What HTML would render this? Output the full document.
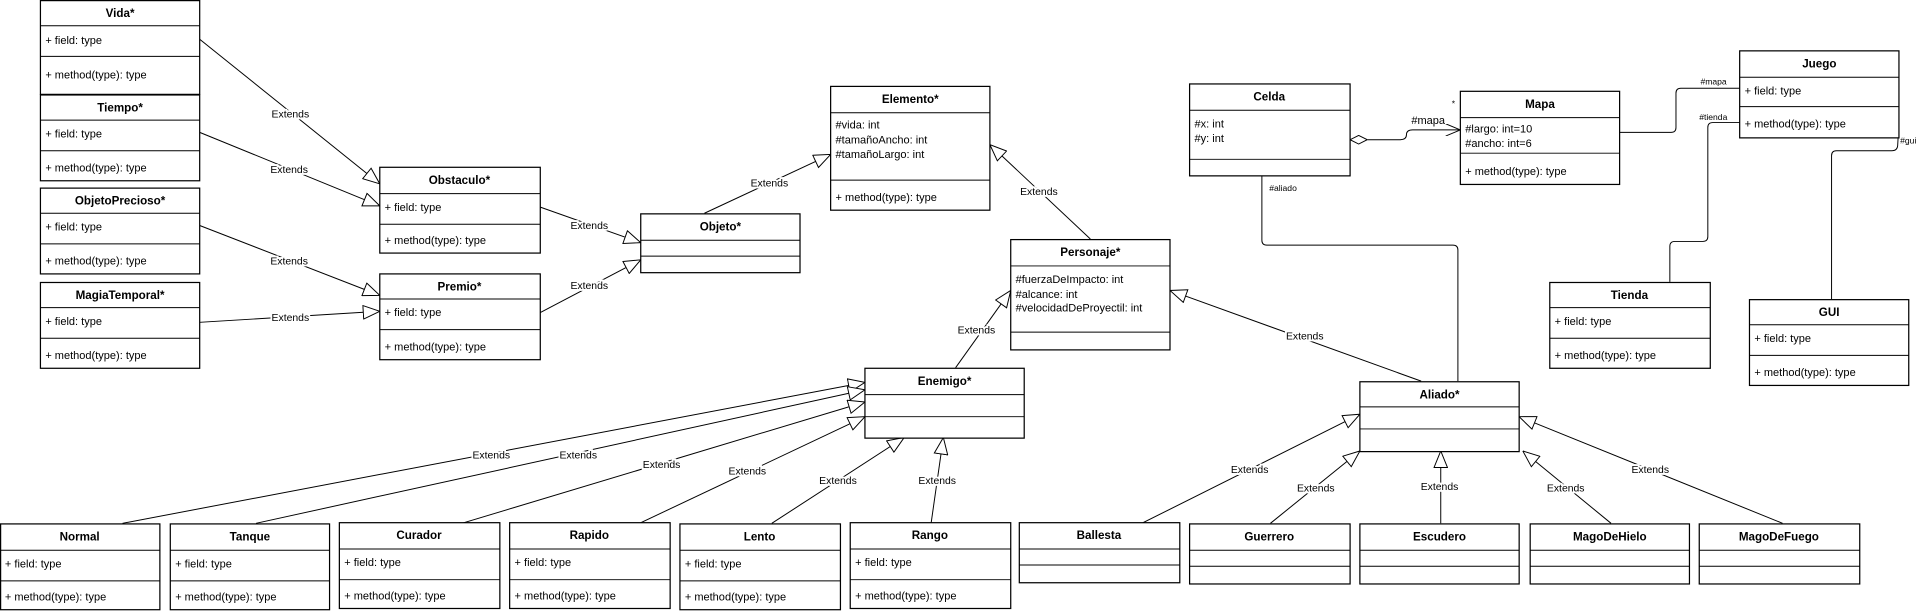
<!DOCTYPE html>
<html><head><meta charset="utf-8"><style>
html,body{margin:0;padding:0;background:#fff;}
svg{display:block}
text{font-family:"Liberation Sans",sans-serif;fill:#000}
.t{font-size:9.5px;font-weight:bold;text-anchor:middle}
.f{font-size:9px}
.l{font-size:8.5px;text-anchor:middle;paint-order:stroke;stroke:#fff;stroke-width:3px}
.s{font-size:7px}
rect{fill:#fff;stroke:#000;stroke-width:1}
line,path.c{stroke:#000;stroke-width:0.8;fill:none}
</style></head><body>
<svg width="1921" height="614" viewBox="0 0 1568 501" preserveAspectRatio="none" xmlns="http://www.w3.org/2000/svg">
<defs>
<marker id="h" viewBox="0 0 14 12" refX="14" refY="6" markerWidth="14" markerHeight="12" markerUnits="userSpaceOnUse" orient="auto"><path d="M0.5,0.5 L14,6 L0.5,11.5 Z" fill="#fff" stroke="#000" stroke-width="0.8"/></marker>
<marker id="o" viewBox="0 0 12 10" refX="12" refY="5" markerWidth="12" markerHeight="10" markerUnits="userSpaceOnUse" orient="auto"><path d="M0,0 L12,5 L0,10" fill="none" stroke="#000" stroke-width="0.8"/></marker>
<marker id="d" viewBox="0 0 14 8" refX="0" refY="4" markerWidth="14" markerHeight="8" markerUnits="userSpaceOnUse" orient="auto"><path d="M0,4 L7,0.5 L14,4 L7,7.5 Z" fill="#fff" stroke="#000" stroke-width="0.8"/></marker>
</defs>

<!-- connectors -->
<g>
<line x1="163" y1="32" x2="310" y2="150" marker-end="url(#h)"/>
<line x1="163" y1="108" x2="310" y2="168" marker-end="url(#h)"/>
<line x1="163" y1="184" x2="310" y2="241" marker-end="url(#h)"/>
<line x1="163" y1="263" x2="310" y2="254" marker-end="url(#h)"/>
<line x1="441" y1="169" x2="523" y2="198" marker-end="url(#h)"/>
<line x1="441" y1="255" x2="523" y2="212" marker-end="url(#h)"/>
<line x1="575" y1="174" x2="678" y2="126" marker-end="url(#h)"/>
<line x1="890" y1="195" x2="808" y2="118" marker-end="url(#h)"/>
<line x1="780" y1="300" x2="825" y2="237" marker-end="url(#h)"/>
<line x1="1160" y1="311" x2="955" y2="237" marker-end="url(#h)"/>

<line x1="100" y1="427" x2="706" y2="312" marker-end="url(#h)"/>
<line x1="209" y1="427" x2="706" y2="318" marker-end="url(#h)"/>
<line x1="377" y1="427" x2="706" y2="328" marker-end="url(#h)"/>
<line x1="522" y1="427" x2="706" y2="340" marker-end="url(#h)"/>
<line x1="630" y1="427" x2="738" y2="357" marker-end="url(#h)"/>
<line x1="760" y1="427" x2="770" y2="357" marker-end="url(#h)"/>

<line x1="932" y1="427" x2="1110" y2="338" marker-end="url(#h)"/>
<line x1="1037" y1="427" x2="1110" y2="368" marker-end="url(#h)"/>
<line x1="1176" y1="427" x2="1176" y2="368" marker-end="url(#h)"/>
<line x1="1315" y1="427" x2="1243" y2="368" marker-end="url(#h)"/>
<line x1="1455" y1="427" x2="1240" y2="340" marker-end="url(#h)"/>

<path class="c" d="M1102,114 L1143,114 Q1148,114 1148,110 Q1148,106 1153,106 L1192,106" marker-start="url(#d)" marker-end="url(#o)"/>
<path class="c" d="M1033,143 L1030,143 L1030,196 Q1030,200 1034,200 L1186,200 Q1190,200 1190,204 L1190,311"/>
<path class="c" d="M1322,108 L1364,108 Q1368,108 1368,104 L1368,76 Q1368,72 1372,72 L1420,72"/>
<path class="c" d="M1420,100 L1398,100 Q1394,100 1394,104 L1394,193 Q1394,197 1390,197 L1367,197 Q1363,197 1363,201 L1363,230"/>
<path class="c" d="M1550,100 L1549,118 Q1549,123 1544,123 L1499,123 Q1495,123 1495,127 L1495,244"/>
</g>

<!-- connector labels -->
<g>
<text class="l" x="237" y="96">Extends</text>
<text class="l" x="236" y="141">Extends</text>
<text class="l" x="236" y="216">Extends</text>
<text class="l" x="237" y="262">Extends</text>
<text class="l" x="481" y="187">Extends</text>
<text class="l" x="481" y="236">Extends</text>
<text class="l" x="628" y="152">Extends</text>
<text class="l" x="848" y="159">Extends</text>
<text class="l" x="797" y="272">Extends</text>
<text class="l" x="1065" y="277">Extends</text>
<text class="l" x="401" y="374">Extends</text>
<text class="l" x="472" y="374">Extends</text>
<text class="l" x="540" y="382">Extends</text>
<text class="l" x="610" y="387">Extends</text>
<text class="l" x="684" y="395">Extends</text>
<text class="l" x="765" y="395">Extends</text>
<text class="l" x="1020" y="386">Extends</text>
<text class="l" x="1074" y="401">Extends</text>
<text class="l" x="1175" y="400">Extends</text>
<text class="l" x="1278" y="401">Extends</text>
<text class="l" x="1347" y="386">Extends</text>
<text class="f" x="1152" y="101">#mapa</text>
<text class="s" x="1185" y="87">*</text>
<text class="s" x="1036" y="156">#aliado</text>
<text class="s" x="1388" y="69">#mapa</text>
<text class="s" x="1387" y="98">#tienda</text>
<text class="s" x="1551" y="117">#gui</text>
</g>

<!-- classes -->
<g>
<rect x="33" y="0.5" width="130" height="76.5"/><line x1="33" y1="21" x2="163" y2="21"/><line x1="33" y1="46" x2="163" y2="46"/>
<text class="t" x="98" y="14">Vida*</text><text class="f" x="37" y="36">+ field: type</text><text class="f" x="37" y="64">+ method(type): type</text>

<rect x="33" y="77.5" width="130" height="70"/><line x1="33" y1="98" x2="163" y2="98"/><line x1="33" y1="123" x2="163" y2="123"/>
<text class="t" x="98" y="91">Tiempo*</text><text class="f" x="37" y="112">+ field: type</text><text class="f" x="37" y="140">+ method(type): type</text>

<rect x="33" y="153.5" width="130" height="70"/><line x1="33" y1="174" x2="163" y2="174"/><line x1="33" y1="199" x2="163" y2="199"/>
<text class="t" x="98" y="167">ObjetoPrecioso*</text><text class="f" x="37" y="188">+ field: type</text><text class="f" x="37" y="216">+ method(type): type</text>

<rect x="33" y="230.5" width="130" height="70"/><line x1="33" y1="251" x2="163" y2="251"/><line x1="33" y1="276" x2="163" y2="276"/>
<text class="t" x="98" y="244">MagiaTemporal*</text><text class="f" x="37" y="265">+ field: type</text><text class="f" x="37" y="293">+ method(type): type</text>

<rect x="310" y="136.5" width="131" height="70"/><line x1="310" y1="158" x2="441" y2="158"/><line x1="310" y1="183" x2="441" y2="183"/>
<text class="t" x="375" y="150">Obstaculo*</text><text class="f" x="314" y="172">+ field: type</text><text class="f" x="314" y="199">+ method(type): type</text>

<rect x="310" y="223.5" width="131" height="70"/><line x1="310" y1="244" x2="441" y2="244"/><line x1="310" y1="269" x2="441" y2="269"/>
<text class="t" x="375" y="237">Premio*</text><text class="f" x="314" y="258">+ field: type</text><text class="f" x="314" y="286">+ method(type): type</text>

<rect x="523" y="174.5" width="130" height="48"/><line x1="523" y1="196" x2="653" y2="196"/><line x1="523" y1="209" x2="653" y2="209"/>
<text class="t" x="588" y="188">Objeto*</text>

<rect x="678" y="70.5" width="130" height="101"/><line x1="678" y1="92" x2="808" y2="92"/><line x1="678" y1="147" x2="808" y2="147"/>
<text class="t" x="743" y="84">Elemento*</text><text class="f" x="682" y="105">#vida: int</text><text class="f" x="682" y="117">#tamañoAncho: int</text><text class="f" x="682" y="129">#tamañoLargo: int</text><text class="f" x="682" y="164">+ method(type): type</text>

<rect x="825" y="195.5" width="130" height="90"/><line x1="825" y1="217" x2="955" y2="217"/><line x1="825" y1="271" x2="955" y2="271"/>
<text class="t" x="890" y="209">Personaje*</text><text class="f" x="829" y="231">#fuerzaDeImpacto: int</text><text class="f" x="829" y="243">#alcance: int</text><text class="f" x="829" y="254">#velocidadDeProyectil: int</text>

<rect x="706" y="300.5" width="130" height="57"/><line x1="706" y1="322" x2="836" y2="322"/><line x1="706" y1="340" x2="836" y2="340"/>
<text class="t" x="771" y="314">Enemigo*</text>

<rect x="1110" y="311.5" width="130" height="57"/><line x1="1110" y1="332" x2="1240" y2="332"/><line x1="1110" y1="350" x2="1240" y2="350"/>
<text class="t" x="1175" y="325">Aliado*</text>

<rect x="971" y="68.5" width="131" height="75"/><line x1="971" y1="90" x2="1102" y2="90"/><line x1="971" y1="130" x2="1102" y2="130"/>
<text class="t" x="1036" y="82">Celda</text><text class="f" x="975" y="104">#x: int</text><text class="f" x="975" y="116">#y: int</text>

<rect x="1192" y="74.5" width="130" height="76"/><line x1="1192" y1="96" x2="1322" y2="96"/><line x1="1192" y1="125" x2="1322" y2="125"/>
<text class="t" x="1257" y="88">Mapa</text><text class="f" x="1196" y="108">#largo: int=10</text><text class="f" x="1196" y="120">#ancho: int=6</text><text class="f" x="1196" y="143">+ method(type): type</text>

<rect x="1420" y="41.5" width="130" height="71"/><line x1="1420" y1="63" x2="1550" y2="63"/><line x1="1420" y1="87" x2="1550" y2="87"/>
<text class="t" x="1485" y="55">Juego</text><text class="f" x="1424" y="77">+ field: type</text><text class="f" x="1424" y="104">+ method(type): type</text>

<rect x="1265" y="230.5" width="131" height="70"/><line x1="1265" y1="251" x2="1396" y2="251"/><line x1="1265" y1="276" x2="1396" y2="276"/>
<text class="t" x="1330" y="244">Tienda</text><text class="f" x="1269" y="265">+ field: type</text><text class="f" x="1269" y="293">+ method(type): type</text>

<rect x="1428" y="244.5" width="130" height="70"/><line x1="1428" y1="265" x2="1558" y2="265"/><line x1="1428" y1="290" x2="1558" y2="290"/>
<text class="t" x="1493" y="258">GUI</text><text class="f" x="1432" y="279">+ field: type</text><text class="f" x="1432" y="307">+ method(type): type</text>

<!-- bottom enemies -->
<rect x="0.5" y="427.5" width="130" height="70"/><line x1="0" y1="449" x2="131" y2="449"/><line x1="0" y1="474" x2="131" y2="474"/>
<text class="t" x="65" y="441">Normal</text><text class="f" x="4" y="463">+ field: type</text><text class="f" x="4" y="490">+ method(type): type</text>
<rect x="139" y="427.5" width="130" height="70"/><line x1="139" y1="449" x2="269" y2="449"/><line x1="139" y1="474" x2="269" y2="474"/>
<text class="t" x="204" y="441">Tanque</text><text class="f" x="143" y="463">+ field: type</text><text class="f" x="143" y="490">+ method(type): type</text>
<rect x="277" y="426.5" width="131" height="70"/><line x1="277" y1="448" x2="408" y2="448"/><line x1="277" y1="473" x2="408" y2="473"/>
<text class="t" x="342" y="440">Curador</text><text class="f" x="281" y="462">+ field: type</text><text class="f" x="281" y="489">+ method(type): type</text>
<rect x="416" y="426.5" width="131" height="70"/><line x1="416" y1="448" x2="547" y2="448"/><line x1="416" y1="473" x2="547" y2="473"/>
<text class="t" x="481" y="440">Rapido</text><text class="f" x="420" y="462">+ field: type</text><text class="f" x="420" y="489">+ method(type): type</text>
<rect x="555" y="427.5" width="131" height="70"/><line x1="555" y1="449" x2="686" y2="449"/><line x1="555" y1="474" x2="686" y2="474"/>
<text class="t" x="620" y="441">Lento</text><text class="f" x="559" y="463">+ field: type</text><text class="f" x="559" y="490">+ method(type): type</text>
<rect x="694" y="426.5" width="131" height="70"/><line x1="694" y1="448" x2="825" y2="448"/><line x1="694" y1="473" x2="825" y2="473"/>
<text class="t" x="759" y="440">Rango</text><text class="f" x="698" y="462">+ field: type</text><text class="f" x="698" y="489">+ method(type): type</text>

<!-- bottom allies -->
<rect x="832" y="426.5" width="131" height="49"/><line x1="832" y1="448" x2="963" y2="448"/><line x1="832" y1="461" x2="963" y2="461"/>
<text class="t" x="897" y="440">Ballesta</text>
<rect x="971" y="427.5" width="131" height="49"/><line x1="971" y1="449" x2="1102" y2="449"/><line x1="971" y1="462" x2="1102" y2="462"/>
<text class="t" x="1036" y="441">Guerrero</text>
<rect x="1110" y="427.5" width="130" height="49"/><line x1="1110" y1="449" x2="1240" y2="449"/><line x1="1110" y1="462" x2="1240" y2="462"/>
<text class="t" x="1175" y="441">Escudero</text>
<rect x="1249" y="427.5" width="130" height="49"/><line x1="1249" y1="449" x2="1379" y2="449"/><line x1="1249" y1="462" x2="1379" y2="462"/>
<text class="t" x="1314" y="441">MagoDeHielo</text>
<rect x="1387" y="427.5" width="131" height="49"/><line x1="1387" y1="449" x2="1518" y2="449"/><line x1="1387" y1="462" x2="1518" y2="462"/>
<text class="t" x="1452" y="441">MagoDeFuego</text>
</g>
</svg>
</body></html>
